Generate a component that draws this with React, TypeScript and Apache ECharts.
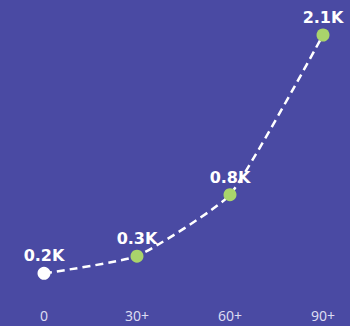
import React, { useEffect, useRef } from "react";
import * as echarts from "echarts";

const categories = ["0", "30+", "60+", "90+"];
const values = [160, 300, 800, 2100];
const pointColors = ["#ffffff", "#a9d46b", "#a9d46b", "#a9d46b"];

export default function App() {
  const ref = useRef<HTMLDivElement>(null);
  useEffect(() => {
    const chart = echarts.init(ref.current!, null, { renderer: "svg" });
    chart.setOption({
      animation: false,
      backgroundColor: "#4a4aa3",
      grid: { left: 44, right: 27, top: 35, bottom: 33 },
      xAxis: {
        type: "category",
        data: categories,
        boundaryGap: false,
        axisLine: { show: false },
        axisTick: { show: false },
        axisLabel: { color: "#dcdcf2", fontSize: 14, margin: 15, fontFamily: "Noto Sans" },
      },
      yAxis: { type: "value", min: 0, max: 2100, show: false, splitLine: { show: false } },
      series: [
        {
          type: "line",
          data: values.map((v, i) => ({ value: v, itemStyle: { color: pointColors[i] } })),
          smooth: 0.15,
          symbol: "circle",
          symbolSize: 13,
          lineStyle: { color: "#ffffff", width: 2.5, type: [8, 5] },
          label: {
            show: true,
            position: "top",
            distance: 3,
            color: "#ffffff",
            fontSize: 16,
            fontWeight: "bold",
            fontFamily: "DejaVu Sans",
            formatter: (p: any) => (p.value / 1000).toFixed(1) + "K",
          },
        },
      ],
    });
    return () => chart.dispose();
  }, []);
  return <div ref={ref} style={{ position: "fixed", left: 0, top: 0, width: 350, height: 326 }} />;
}
